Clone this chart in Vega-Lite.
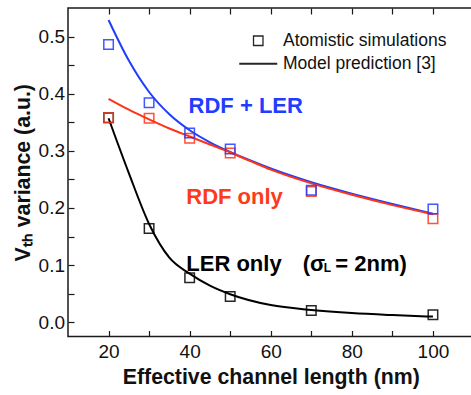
{
  "$schema": "https://vega.github.io/schema/vega-lite/v6.json",
  "width": 405.5,
  "height": 328.5,
  "autosize": {"type": "none"},
  "padding": {"left": 68, "top": 8, "right": 0, "bottom": 58.5},
  "background": "white",
  "resolve": {"axis": {"x": "independent", "y": "independent"}},
  "config": {
    "view": {"stroke": "#1a1a1a", "strokeWidth": 1.5},
    "font": "Liberation Sans",
    "axis": {
      "grid": false,
      "domain": false,
      "tickColor": "#1a1a1a",
      "tickWidth": 1.2,
      "tickSize": -6,
      "labelFont": "Liberation Sans",
      "labelFontSize": 19,
      "labelColor": "#111",
      "titleFont": "Liberation Sans",
      "titleFontSize": 21.3,
      "titleFontWeight": "bold",
      "titleColor": "#111"
    }
  },
  "datasets": {
    "curves": [
      {"L": 20, "v": 0.529, "series": "RDF + LER"},
      {"L": 25, "v": 0.458, "series": "RDF + LER"},
      {"L": 30, "v": 0.403, "series": "RDF + LER"},
      {"L": 35, "v": 0.364, "series": "RDF + LER"},
      {"L": 40, "v": 0.336, "series": "RDF + LER"},
      {"L": 45, "v": 0.315, "series": "RDF + LER"},
      {"L": 50, "v": 0.298, "series": "RDF + LER"},
      {"L": 55, "v": 0.283, "series": "RDF + LER"},
      {"L": 60, "v": 0.269, "series": "RDF + LER"},
      {"L": 70, "v": 0.245, "series": "RDF + LER"},
      {"L": 80, "v": 0.225, "series": "RDF + LER"},
      {"L": 90, "v": 0.207, "series": "RDF + LER"},
      {"L": 100, "v": 0.190, "series": "RDF + LER"},
      {"L": 20, "v": 0.391, "series": "RDF only"},
      {"L": 25, "v": 0.372, "series": "RDF only"},
      {"L": 30, "v": 0.355, "series": "RDF only"},
      {"L": 35, "v": 0.339, "series": "RDF only"},
      {"L": 40, "v": 0.325, "series": "RDF only"},
      {"L": 45, "v": 0.311, "series": "RDF only"},
      {"L": 50, "v": 0.297, "series": "RDF only"},
      {"L": 55, "v": 0.282, "series": "RDF only"},
      {"L": 60, "v": 0.267, "series": "RDF only"},
      {"L": 70, "v": 0.243, "series": "RDF only"},
      {"L": 80, "v": 0.223, "series": "RDF only"},
      {"L": 90, "v": 0.205, "series": "RDF only"},
      {"L": 100, "v": 0.189, "series": "RDF only"},
      {"L": 20, "v": 0.357, "series": "LER only"},
      {"L": 25, "v": 0.261, "series": "LER only"},
      {"L": 30, "v": 0.172, "series": "LER only"},
      {"L": 35, "v": 0.113, "series": "LER only"},
      {"L": 40, "v": 0.085, "series": "LER only"},
      {"L": 45, "v": 0.064, "series": "LER only"},
      {"L": 50, "v": 0.049, "series": "LER only"},
      {"L": 60, "v": 0.030, "series": "LER only"},
      {"L": 70, "v": 0.0215, "series": "LER only"},
      {"L": 80, "v": 0.016, "series": "LER only"},
      {"L": 90, "v": 0.0125, "series": "LER only"},
      {"L": 100, "v": 0.0098, "series": "LER only"}
    ],
    "pts": [
      {"L": 20, "v": 0.358, "series": "LER only"},
      {"L": 30, "v": 0.164, "series": "LER only"},
      {"L": 40, "v": 0.078, "series": "LER only"},
      {"L": 50, "v": 0.045, "series": "LER only"},
      {"L": 70, "v": 0.0205, "series": "LER only"},
      {"L": 100, "v": 0.013, "series": "LER only"},
      {"L": 20, "v": 0.358, "series": "RDF only"},
      {"L": 30, "v": 0.357, "series": "RDF only"},
      {"L": 40, "v": 0.322, "series": "RDF only"},
      {"L": 50, "v": 0.296, "series": "RDF only"},
      {"L": 70, "v": 0.229, "series": "RDF only"},
      {"L": 100, "v": 0.181, "series": "RDF only"},
      {"L": 20, "v": 0.486, "series": "RDF + LER"},
      {"L": 30, "v": 0.384, "series": "RDF + LER"},
      {"L": 40, "v": 0.331, "series": "RDF + LER"},
      {"L": 50, "v": 0.303, "series": "RDF + LER"},
      {"L": 70, "v": 0.231, "series": "RDF + LER"},
      {"L": 100, "v": 0.198, "series": "RDF + LER"}
    ],
    "one": [{}]
  },
  "layer": [
    {
      "data": {"name": "curves"},
      "mark": {"type": "line", "interpolate": "monotone", "strokeWidth": 2},
      "encoding": {
        "x": {
          "field": "L", "type": "quantitative",
          "scale": {"domain": [10, 110], "nice": false, "zero": false},
          "axis": {
            "orient": "bottom",
            "ticks": false,
            "values": [20, 40, 60, 80, 100],
            "labelPadding": 5.5,
            "title": "Effective channel length (nm)",
            "titlePadding": 5
          }
        },
        "y": {
          "field": "v", "type": "quantitative",
          "scale": {"domain": [-0.025, 0.55], "nice": false, "zero": false},
          "axis": {
            "orient": "left",
            "ticks": false,
            "values": [0, 0.1, 0.2, 0.3, 0.4, 0.5],
            "format": ".1f",
            "labelPadding": 3.5,
            "title": "Vₜₕ variance (a.u.)",
            "titlePadding": 5
          }
        },
        "color": {
          "field": "series", "type": "nominal",
          "scale": {"domain": ["RDF + LER", "RDF only", "LER only"], "range": ["#1f3dff", "#ff3317", "#000000"]},
          "legend": null
        },
        "detail": {"field": "series"}
      }
    },
    {
      "data": {"name": "pts"},
      "mark": {"type": "point", "filled": false, "strokeWidth": 1.5, "opacity": 0.85},
      "encoding": {
        "x": {"field": "L", "type": "quantitative", "axis": null},
        "y": {"field": "v", "type": "quantitative", "axis": null},
        "color": {"field": "series", "type": "nominal", "legend": null},
        "size": {"value": 90},
        "shape": {
          "datum": "Atomistic simulations", "type": "nominal",
          "scale": {"domain": ["Atomistic simulations", "Model prediction [3]"], "range": ["square", "stroke"]},
          "legend": {
            "orient": "none",
            "legendX": 181.5,
            "legendY": 24,
            "title": null,
            "symbolSize": 90,
            "symbolStrokeColor": "#000",
            "symbolFillColor": "transparent",
            "symbolStrokeWidth": 1.3,
            "labelFont": "Liberation Sans",
            "labelFontSize": 17.5,
            "labelColor": "#111",
            "labelLimit": 400,
            "labelOffset": 16,
            "rowPadding": 4,
            "encoding": {
              "symbols": {
                "size": {"value": {"expr": "datum.value === 'Model prediction [3]' ? 1444 : 90"}},
                "strokeWidth": {"value": {"expr": "datum.value === 'Model prediction [3]' ? 2 : 1.3"}}
              }
            }
          }
        }
      }
    },
    {
      "data": {"name": "pts"},
      "mark": {"type": "point", "opacity": 0},
      "encoding": {
        "x": {
          "field": "L", "type": "quantitative",
          "axis": {"orient": "top", "values": [20, 30, 40, 50, 60, 70, 80, 90, 100], "labels": false, "title": null}
        },
        "y": {"field": "v", "type": "quantitative", "axis": null}
      }
    },
    {
      "data": {"name": "pts"},
      "mark": {"type": "point", "opacity": 0},
      "encoding": {
        "x": {
          "field": "L", "type": "quantitative",
          "axis": {"orient": "bottom", "values": [20, 30, 40, 50, 60, 70, 80, 90, 100], "labels": false, "title": null}
        },
        "y": {
          "field": "v", "type": "quantitative",
          "axis": {"orient": "left", "values": [0, 0.05, 0.1, 0.15, 0.2, 0.25, 0.3, 0.35, 0.4, 0.45, 0.5], "labels": false, "title": null}
        }
      }
    },
    {
      "data": {"name": "one"},
      "mark": {"type": "text", "align": "left", "baseline": "alphabetic", "font": "Liberation Sans", "fontWeight": "bold", "fontSize": 22, "color": "#1f3dff"},
      "encoding": {"x": {"datum": 39.74, "axis": null}, "y": {"datum": 0.366, "axis": null}, "text": {"value": "RDF + LER"}}
    },
    {
      "data": {"name": "one"},
      "mark": {"type": "text", "align": "left", "baseline": "alphabetic", "font": "Liberation Sans", "fontWeight": "bold", "fontSize": 22, "color": "#ff3a1a"},
      "encoding": {"x": {"datum": 39.17, "axis": null}, "y": {"datum": 0.207, "axis": null}, "text": {"value": "RDF only"}}
    },
    {
      "data": {"name": "one"},
      "mark": {"type": "text", "align": "left", "baseline": "alphabetic", "font": "Liberation Sans", "fontWeight": "bold", "fontSize": 22, "color": "#000"},
      "encoding": {"x": {"datum": 39.17, "axis": null}, "y": {"datum": 0.0905, "axis": null}, "text": {"value": "LER only"}}
    },
    {
      "data": {"name": "one"},
      "mark": {"type": "text", "align": "left", "baseline": "alphabetic", "font": "Liberation Sans", "fontWeight": "bold", "fontSize": 22, "color": "#000", "dx": 116.5},
      "encoding": {"x": {"datum": 39.17, "axis": null}, "y": {"datum": 0.0905, "axis": null}, "text": {"value": "(σ"}}
    },
    {
      "data": {"name": "one"},
      "mark": {"type": "text", "align": "left", "baseline": "alphabetic", "font": "Liberation Sans", "fontWeight": "bold", "fontSize": 12, "color": "#000", "dx": 137.5, "dy": 1.6},
      "encoding": {"x": {"datum": 39.17, "axis": null}, "y": {"datum": 0.0905, "axis": null}, "text": {"value": "L"}}
    },
    {
      "data": {"name": "one"},
      "mark": {"type": "text", "align": "left", "baseline": "alphabetic", "font": "Liberation Sans", "fontWeight": "bold", "fontSize": 22, "color": "#000", "dx": 149},
      "encoding": {"x": {"datum": 39.17, "axis": null}, "y": {"datum": 0.0905, "axis": null}, "text": {"value": "= 2nm)"}}
    }
  ]
}
